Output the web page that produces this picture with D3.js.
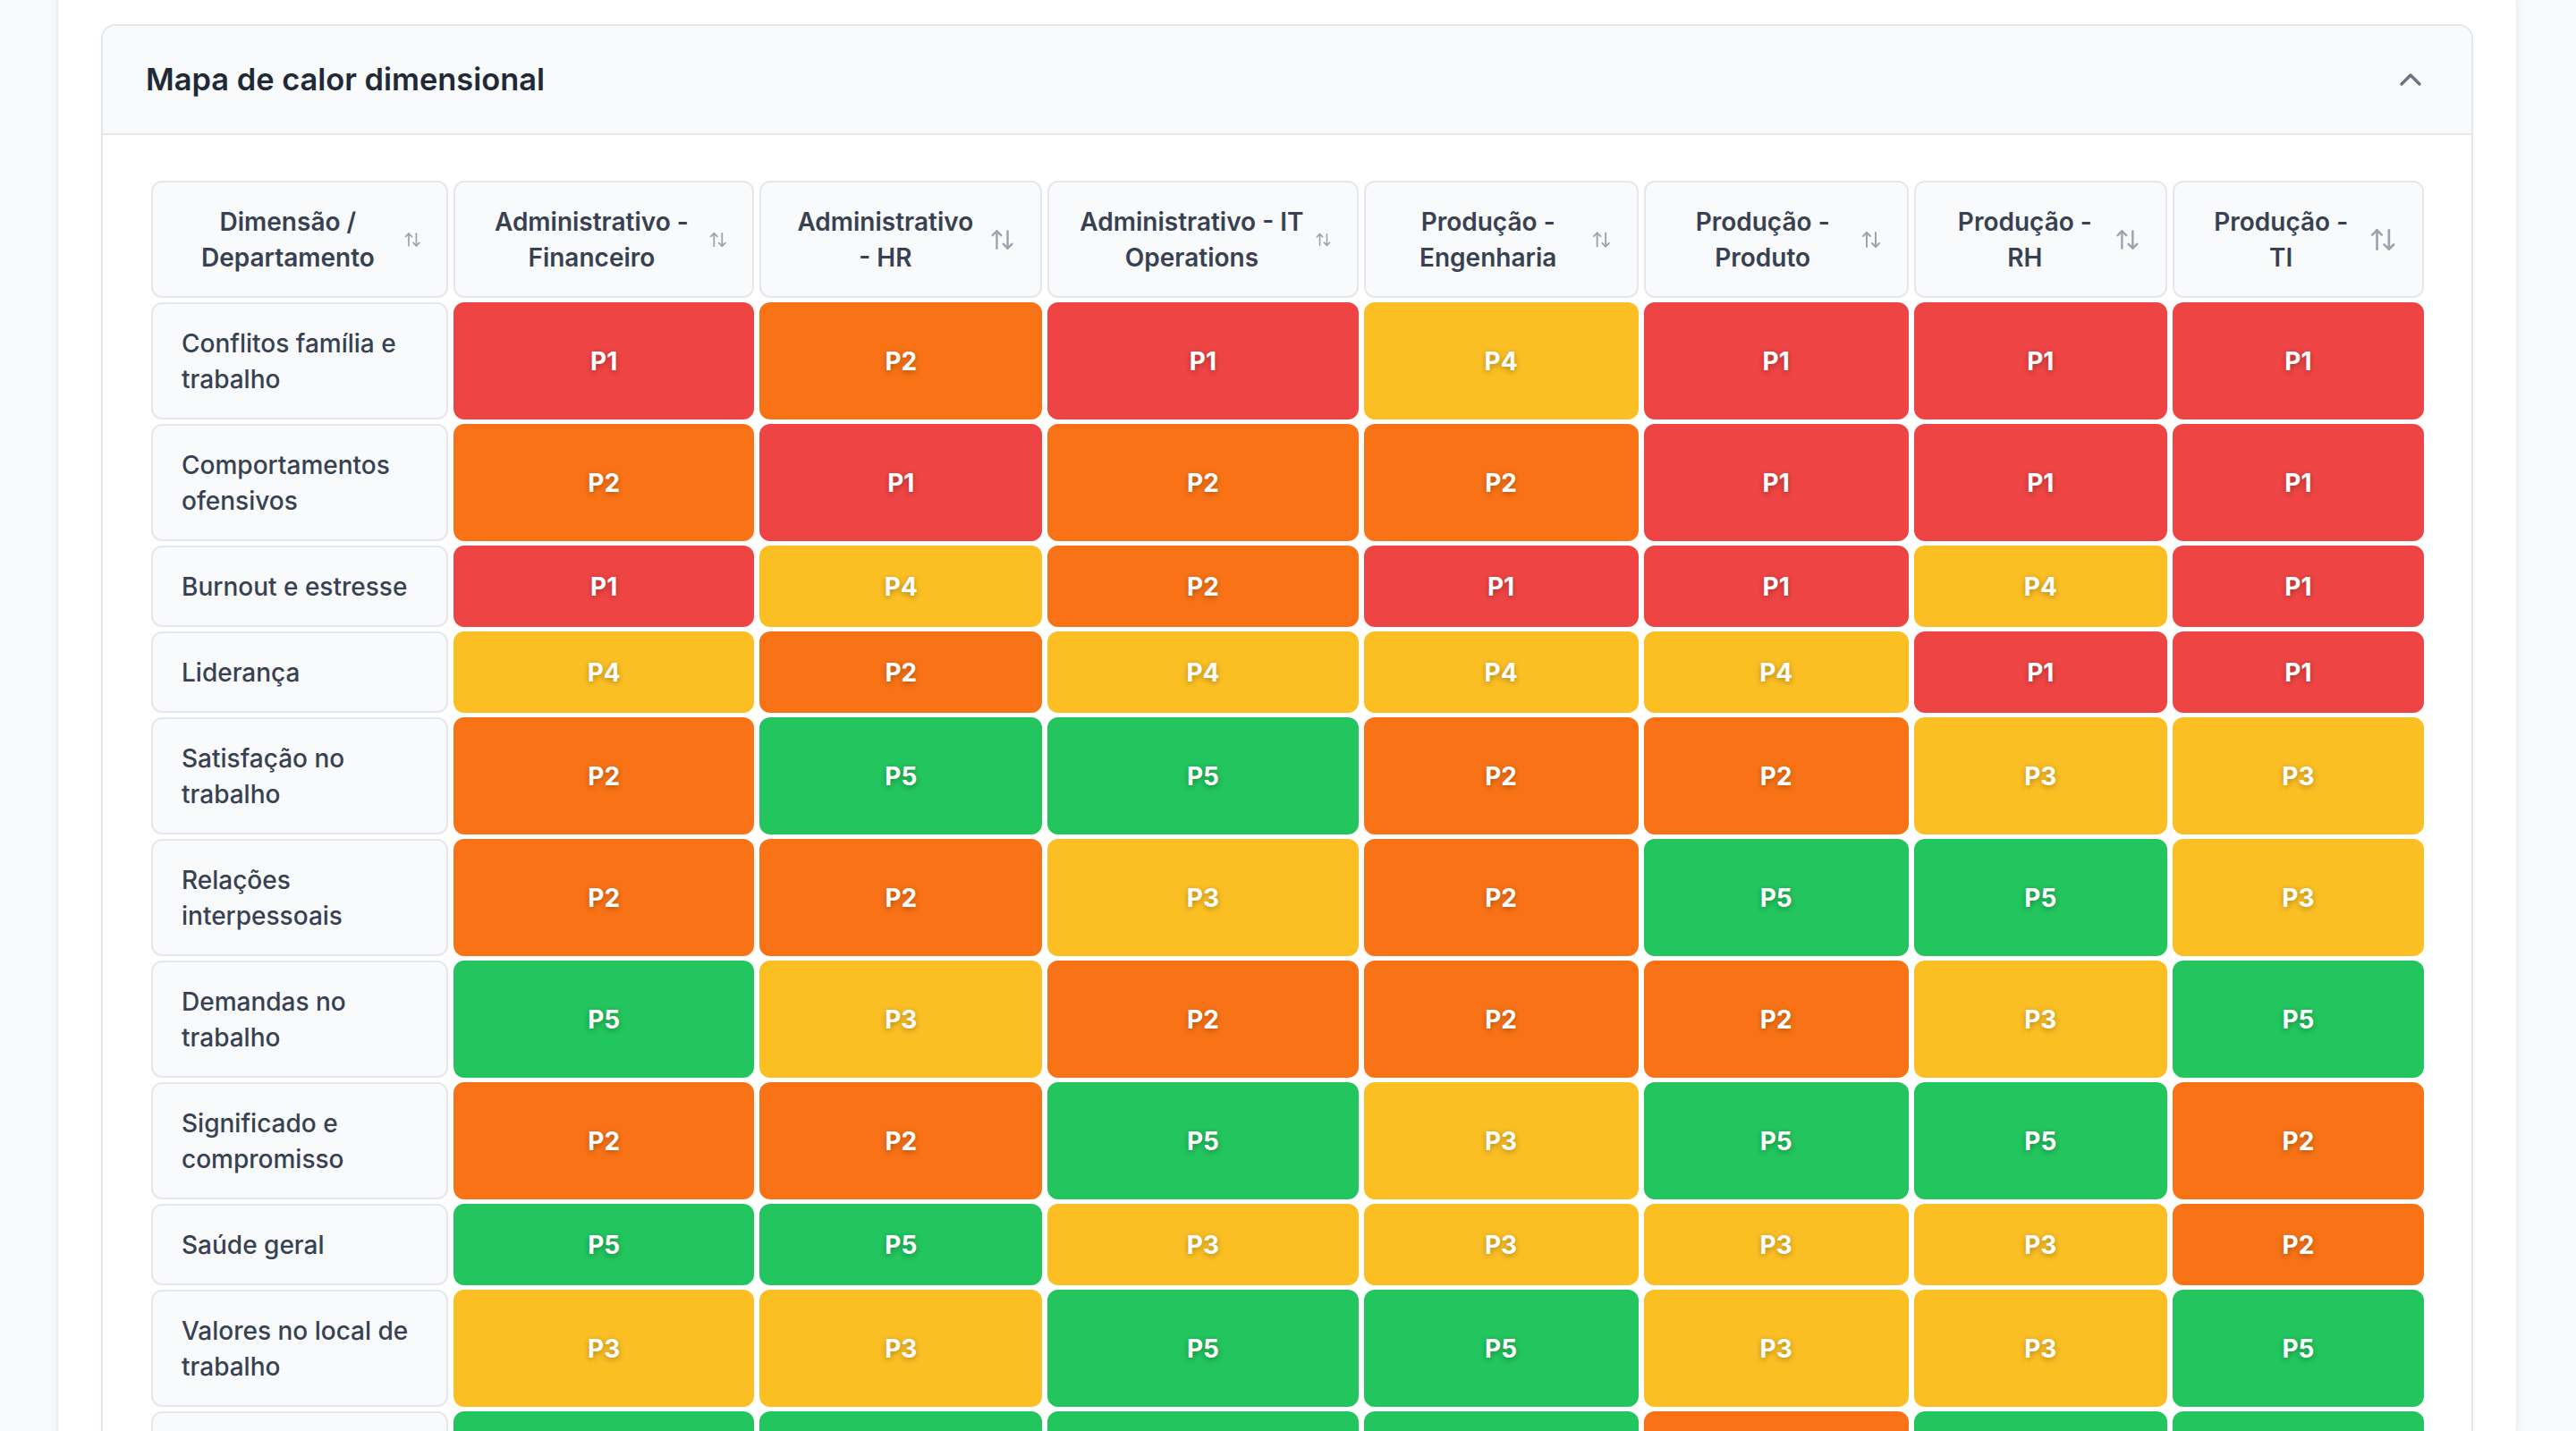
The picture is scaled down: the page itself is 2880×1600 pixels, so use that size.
<!DOCTYPE html>
<html lang="pt-BR">
<head>
<meta charset="utf-8">
<title>Mapa de calor dimensional</title>
<script src="https://cdn.jsdelivr.net/npm/d3@7"></script>
<style>
  html, body { margin: 0; padding: 0; }
  body {
    zoom: 2;
    width: 1440px;
    height: 800px;
    overflow: hidden;
    background: #f8f9fb;
    font-family: Inter, "Noto Sans", sans-serif;
    position: relative;
  }
  .main {
    position: absolute;
    left: 31.5px;
    top: 0;
    width: 1376px;
    height: 800px;
    box-sizing: border-box;
    background: #fff;
    border-left: 1px solid #eceef1;
    border-right: 1px solid #eceef1;
    box-shadow: 0 0 4px rgba(0, 0, 0, 0.04);
    padding: 13.5px 24px 0 24px;
  }
  .card {
    border: 1px solid #e5e7eb;
    border-radius: 8px;
    background: #fff;
    overflow: hidden;
    box-shadow: 0 1px 2px rgba(0, 0, 0, 0.04);
  }
  .card-header {
    display: flex;
    align-items: center;
    justify-content: space-between;
    padding: 16px 24px;
    background: #f9fafb;
    border-bottom: 1px solid #e5e7eb;
  }
  .card-header h3 {
    margin: 0;
    font-size: 17.2px;
    line-height: 28px;
    font-weight: 600;
    color: #1f2937;
  }
  .card-header svg { display: block; }
  .card-body { padding: 23px 23.5px 24px 24px; }

  table.heatmap {
    width: 100%;
    table-layout: fixed;
    border-collapse: separate;
    border-spacing: 3px 2.5px;
  }
  table.heatmap th, table.heatmap td {
    box-sizing: border-box;
    border-radius: 6px;
    font-size: 14px;
    line-height: 20px;
    vertical-align: middle;
  }
  table.heatmap th {
    padding: 11.75px 14px 11.75px 16px;
    background: #f9fafb;
    border: 1px solid #e5e7eb;
    color: #374151;
    font-weight: 600;
  }
  th:nth-child(1) { width: 166px; }
  th:nth-child(2) { width: 168px; }
  th:nth-child(3) { width: 158px; }
  th:nth-child(4) { width: 173.5px; }
  th:nth-child(5) { width: 153.5px; }
  th:nth-child(6) { width: 148px; }
  th:nth-child(7) { width: 141.5px; }
  th:nth-child(8) { width: 140.5px; }

  .th-inner { display: flex; align-items: center; }
  .th-text { flex: 1 1 auto; min-width: 0; text-align: center; }
  .sort { flex: 0 0 auto; margin-left: 5px; color: #9ca3af; }
  th:nth-child(1) .sort { width: 10.2px; }
  th:nth-child(2) .sort { width: 10.8px; }
  th:nth-child(3) .sort { width: 14.5px; }
  th:nth-child(4) .sort { width: 9.5px; }
  th:nth-child(5) .sort { width: 11.4px; }
  th:nth-child(6) .sort { width: 12px; }
  th:nth-child(7) .sort { width: 14.4px; }
  th:nth-child(8) .sort { width: 16.2px; }

  td.dim {
    padding: 11.75px 16px;
    background: #f9fafb;
    border: 1px solid #e5e7eb;
    color: #374151;
    font-weight: 500;
    text-align: left;
  }
  td.cell {
    padding: 11.75px 12px;
    color: #fff;
    font-weight: 700;
    text-align: center;
    text-shadow: 0 1px 3px rgba(0, 0, 0, 0.3);
  }
</style>
</head>
<body>
<div class="main">
  <div class="card" id="heatmap-card">
    <div class="card-header">
      <h3>Mapa de calor dimensional</h3>
    </div>
    <div class="card-body"></div>
  </div>
</div>
<script>
// departamentos (colunas)
var departments = [
    "Administrativo - Financeiro",
    "Administrativo - HR",
    "Administrativo - IT Operations",
    "Produção - Engenharia",
    "Produção - Produto",
    "Produção - RH",
    "Produção - TI"
];

// dimensões (linhas)
var dimensions = [
    "Conflitos família e trabalho",
    "Comportamentos ofensivos",
    "Burnout e estresse",
    "Liderança",
    "Satisfação no trabalho",
    "Relações interpessoais",
    "Demandas no trabalho",
    "Significado e compromisso",
    "Saúde geral",
    "Valores no local de trabalho",
    "Autonomia no trabalho"
];

// prioridade por dimensão x departamento
var priorities = [
    ["P1", "P2", "P1", "P4", "P1", "P1", "P1"],
    ["P2", "P1", "P2", "P2", "P1", "P1", "P1"],
    ["P1", "P4", "P2", "P1", "P1", "P4", "P1"],
    ["P4", "P2", "P4", "P4", "P4", "P1", "P1"],
    ["P2", "P5", "P5", "P2", "P2", "P3", "P3"],
    ["P2", "P2", "P3", "P2", "P5", "P5", "P3"],
    ["P5", "P3", "P2", "P2", "P2", "P3", "P5"],
    ["P2", "P2", "P5", "P3", "P5", "P5", "P2"],
    ["P5", "P5", "P3", "P3", "P3", "P3", "P2"],
    ["P3", "P3", "P5", "P5", "P3", "P3", "P5"],
    ["P5", "P5", "P5", "P5", "P2", "P5", "P5"]
];

var priorityLevels = ["P1", "P2", "P3", "P4", "P5"];
var cornerLabel = "Dimensão / Departamento";

var color = d3.scaleOrdinal()
    .domain(priorityLevels)
    .range(["#ef4444", "#f97316", "#fbbf24", "#fbbf24", "#22c55e"]);

// lucide arrow-up-down / chevron-up
var sortIconPaths = ["m21 16-4 4-4-4", "M17 20V4", "m3 8 4-4 4 4", "M7 4v16"];
var chevronPath = "m18 15-6-6-6 6";

function lineIcon(sel, paths, size) {
    var svg = sel.append("svg")
        .attr("viewBox", "0 0 24 24")
        .attr("width", size)
        .attr("height", size)
        .attr("fill", "none")
        .attr("stroke", "currentColor")
        .attr("stroke-width", 2)
        .attr("stroke-linecap", "round")
        .attr("stroke-linejoin", "round");
    svg.selectAll("path").data(paths).join("path").attr("d", function(d) { return d; });
    return svg;
}

var card = d3.select("#heatmap-card");
lineIcon(card.select(".card-header"), [chevronPath], 20).style("color", "#6b7280");

var table = card.select(".card-body").append("table").attr("class", "heatmap");

var th = table.append("thead").append("tr")
    .selectAll("th")
    .data([cornerLabel].concat(departments))
    .join("th");

var inner = th.append("div").attr("class", "th-inner");
inner.append("span").attr("class", "th-text").text(function(d) { return d; });
inner.each(function() {
    lineIcon(d3.select(this), sortIconPaths, 16).attr("class", "sort");
});

var rows = table.append("tbody")
    .selectAll("tr")
    .data(dimensions.map(function(name, i) { return {name: name, values: priorities[i]}; }))
    .join("tr");

rows.append("td")
    .attr("class", "dim")
    .text(function(d) { return d.name; });

rows.selectAll("td.cell")
    .data(function(d) { return d.values; })
    .join("td")
    .attr("class", "cell")
    .style("background", function(d) { return color(d); })
    .style("border", function(d) { return "1px solid " + color(d); })
    .text(function(d) { return d; });
</script>
</body>
</html>
